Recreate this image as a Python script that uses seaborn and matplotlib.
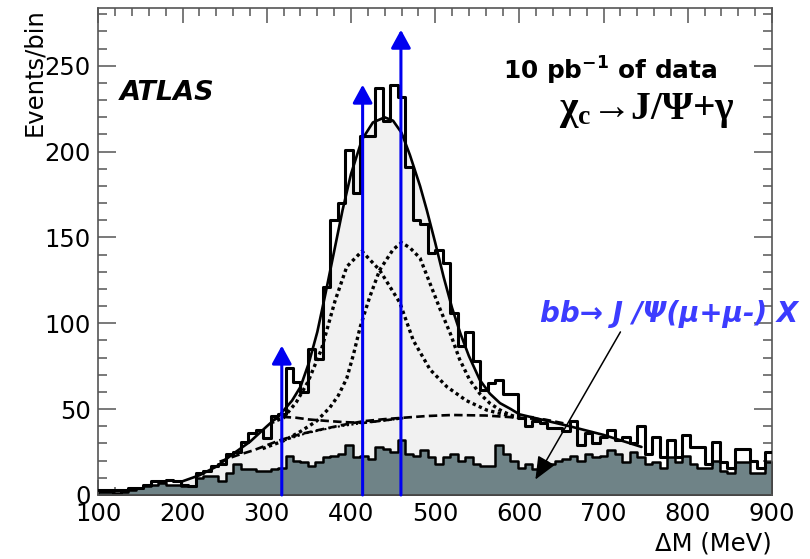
import numpy as np
import pandas as pd
import matplotlib
matplotlib.use("Agg")
import matplotlib.pyplot as plt
from matplotlib.ticker import MultipleLocator
import seaborn as sns

# ---- histogram contents: 90 bins of equal width between 100 and 900 MeV ----
bin_edges = np.linspace(100, 900, 91).tolist()

data_counts = [
    3, 3, 3, 3, 4, 4, 6, 8, 8, 9,
    8, 6, 5, 13, 14, 17, 18, 24, 25, 31,
    36, 38, 33, 46, 47, 74, 66, 60, 85, 79,
    121, 160, 170, 201, 176, 209, 209, 237, 218, 239,
    232, 191, 160, 158, 141, 143, 135, 106, 87, 95,
    78, 61, 65, 67, 59, 59, 45, 40, 43, 42,
    39, 39, 37, 43, 29, 36, 30, 34, 38, 32,
    34, 30, 40, 24, 34, 22, 32, 22, 35, 28,
    28, 18, 31, 19, 16, 27, 27, 20, 16, 25,
]

bkg_counts = [
    2, 2, 1, 2, 3, 4, 5, 6, 7, 6,
    6, 5, 5, 10, 11, 11, 8, 13, 18, 15,
    15, 14, 14, 15, 16, 23, 20, 19, 17, 19,
    22, 23, 24, 29, 22, 23, 21, 28, 27, 25,
    32, 24, 23, 26, 22, 18, 22, 24, 20, 22,
    18, 17, 17, 29, 24, 20, 16, 18, 15, 19,
    18, 20, 21, 23, 20, 24, 22, 23, 26, 24,
    19, 25, 22, 18, 19, 16, 22, 19, 23, 18,
    16, 16, 20, 14, 13, 19, 19, 13, 13, 19,
]

# ---- fit curves (MeV, events/bin) ----
fit_x = [200, 220, 240, 260, 280, 300, 316, 330, 340, 350, 360, 370, 380, 390,
         400, 413, 426, 440, 450, 460, 470, 482, 490, 500, 510, 520, 530, 540,
         553, 565, 577, 590, 600, 630, 660, 700, 745]
fit_y = [8, 11.5, 16.5, 24, 31, 40, 47, 55, 63, 77, 95, 118, 142, 166,
         187, 207, 217, 220, 218, 211, 198, 180, 166, 147, 127, 109, 94, 81,
         67, 59, 53.5, 50, 47, 43.5, 40, 35, 28]

chic1_x = [305, 320, 335, 349, 365, 381, 395, 413, 434, 458, 474, 494,
           514, 537, 561, 592, 620]
chic1_y = [42, 45, 54, 66, 85, 113, 133, 142, 131, 112, 90, 73,
           63, 55, 49.5, 45.6, 45]

chic2_x = [295, 320, 340, 359, 375, 385, 395, 403, 411, 422, 434, 450, 460,
           470, 482, 494, 506, 518, 529, 541, 553, 565, 577, 589, 600]
chic2_y = [27, 31.6, 37, 43, 51, 58, 68, 82, 98, 115, 131, 143, 147,
           144, 138, 123, 108, 94, 79, 67, 59, 53.4, 49.5, 46.6, 45]

bkgfit_x = [244, 264, 284, 300, 316, 340, 363, 390, 415, 440, 462, 490, 520,
            560, 600, 630, 655]
bkgfit_y = [19.4, 23, 26, 29, 32, 35.5, 38, 40.8, 43, 44.2, 45, 46, 46.6,
            46.3, 45, 44, 41.5]

chic0_x = [305, 316, 335, 350, 370, 390, 415, 440, 462]
chic0_y = [43, 45.6, 45, 44, 43.2, 42.5, 42, 43.5, 44.8]

bkgalt_x = [316, 347, 380, 415, 460]
bkgalt_y = [31, 36, 39.5, 42, 44.5]

# ---- nominal chi_cJ - J/psi mass differences and arrow heights ----
arrow_dm = [317.8, 413.8, 459.3]
arrow_top = [87, 239, 271]

x_ticks = [100, 200, 300, 400, 500, 600, 700, 800, 900]
y_ticks = [0, 50, 100, 150, 200, 250]

sns.set_theme(style="ticks")
plt.rcParams["font.family"] = ["DejaVu Sans"]
plt.rcParams["text.color"] = "black"
plt.rcParams["axes.labelcolor"] = "black"
plt.rcParams["xtick.labelcolor"] = "black"
plt.rcParams["ytick.labelcolor"] = "black"
plt.rcParams["mathtext.fontset"] = "dejavusans"
plt.rcParams["mathtext.rm"] = "Liberation Serif:bold"
plt.rcParams["mathtext.it"] = "Liberation Serif:bold"
plt.rcParams["mathtext.bf"] = "Liberation Serif:bold"

fig = plt.figure(figsize=(8.1, 5.59), dpi=100)
ax = fig.add_axes([98.4 / 810, 64 / 559, 673.6 / 810, 486.7 / 559])

edges_arr = np.asarray(bin_edges)
centers = 0.5 * (edges_arr[:-1] + edges_arr[1:])
hist_df = pd.DataFrame({"dm": centers, "data": data_counts, "bkg": bkg_counts})

# area under the total fit
ax.fill_between(fit_x, fit_y, 0, color="#f1f1f1", linewidth=0, zorder=1)

# b-bbar -> J/psi X background (filled)
sns.histplot(data=hist_df, x="dm", weights="bkg", bins=bin_edges, element="step",
             fill=True, color="#6f8387", alpha=1.0, edgecolor="black",
             linewidth=1.8, ax=ax, zorder=2)

# data
sns.histplot(data=hist_df, x="dm", weights="data", bins=bin_edges, element="step",
             fill=False, color="black", linewidth=2.2, ax=ax, zorder=3)

# fit components
sns.lineplot(x=bkgfit_x, y=bkgfit_y, sort=False, estimator=None, color="black",
             linewidth=1.9, linestyle=(0, (3.2, 1.6)), ax=ax, zorder=4)
sns.lineplot(x=bkgalt_x, y=bkgalt_y, sort=False, estimator=None, color="black",
             linewidth=1.5, linestyle=(0, (1, 1.2)), ax=ax, zorder=4)
sns.lineplot(x=chic0_x, y=chic0_y, sort=False, estimator=None, color="black",
             linewidth=1.9, linestyle=(0, (3.2, 1.6)), ax=ax, zorder=4)
sns.lineplot(x=chic1_x, y=chic1_y, sort=False, estimator=None, color="black",
             linewidth=2.4, linestyle=(0, (1, 1)), ax=ax, zorder=4)
sns.lineplot(x=chic2_x, y=chic2_y, sort=False, estimator=None, color="black",
             linewidth=2.4, linestyle=(0, (1, 1)), ax=ax, zorder=4)
sns.lineplot(x=fit_x, y=fit_y, sort=False, estimator=None, color="black",
             linewidth=1.9, ax=ax, zorder=5)

# chi_c0, chi_c1, chi_c2 positions
for xm, top in zip(arrow_dm, arrow_top):
    ax.annotate("", xy=(xm, top), xytext=(xm, 0), zorder=6,
                arrowprops=dict(arrowstyle="-|>,head_length=0.55,head_width=0.3",
                                color="#0000f0", lw=2.2, mutation_scale=20,
                                shrinkA=0, shrinkB=0))

# pointer to the background histogram
ax.annotate("", xy=(619, 9), xytext=(720, 95), zorder=6,
            arrowprops=dict(arrowstyle="-|>,head_length=0.7,head_width=0.3",
                            color="black", lw=1.1, mutation_scale=20,
                            shrinkA=0, shrinkB=0))

# labels
ax.text(125.6, 230, "ATLAS", fontsize=19.5, fontweight="bold", style="italic",
        color="black", va="baseline", ha="left")
ax.text(580.6, 241.8, r"10 pb$^{\mathbf{-1}}$ of data", fontsize=17.8,
        fontweight="bold", color="black", va="baseline", ha="left",
        math_fontfamily="dejavusans")
ax.text(856, 219, "χ$_\\mathrm{c}$→J/Ψ+γ", fontsize=28.5, fontweight="bold",
        color="black", family=["Liberation Serif", "DejaVu Serif"],
        va="baseline", ha="right", math_fontfamily="custom")
ax.text(624.5, 100.8, "bb→ J /Ψ(μ+μ-) X", fontsize=20, fontweight="bold",
        style="italic", color="#3c3cff", va="baseline", ha="left", clip_on=False)

ax.set_xlim(100, 900)
ax.set_ylim(0, 283.5)
ax.set_xticks(x_ticks)
ax.set_yticks(y_ticks)
ax.xaxis.set_minor_locator(MultipleLocator(20))
ax.yaxis.set_minor_locator(MultipleLocator(10))

frame_col = "#555555"
for sp in ax.spines.values():
    sp.set_visible(True)
    sp.set_color(frame_col)
    sp.set_linewidth(1.2)
ax.tick_params(axis="both", which="both", direction="in", top=True, right=True,
               color=frame_col, labelcolor="black", width=1.1)
ax.tick_params(axis="x", which="major", length=11, pad=5, labelsize=17.5)
ax.tick_params(axis="x", which="minor", length=5.5)
ax.tick_params(axis="y", which="major", length=13, pad=5.5, labelsize=17.5)
ax.tick_params(axis="y", which="minor", length=6.5)

ax.set_xlabel("ΔM (MeV)", fontsize=17.5, loc="right", color="black")
ax.xaxis.set_label_coords(1.0, -0.075)
ax.set_ylabel("Events/bin", fontsize=17.5, loc="top", color="black")
ax.yaxis.set_label_coords(-0.078, 1.0)
ax.set_facecolor("white")
ax.grid(False)

fig.savefig("out.png", dpi=100, facecolor="white")
